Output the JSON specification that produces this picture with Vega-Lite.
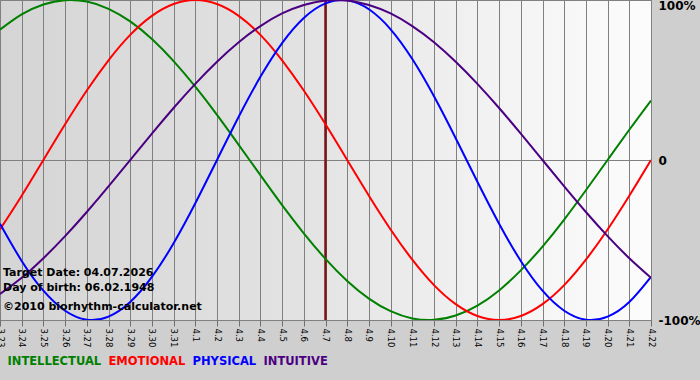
{
  "$schema": "https://vega.github.io/schema/vega-lite/v6.json",
  "width": 651,
  "height": 320,
  "autosize": {"type": "none"},
  "padding": {"left": 0, "top": 0, "right": 49, "bottom": 60},
  "background": "#cfcfcf",
  "config": {
    "font": "DejaVu Sans",
    "view": {
      "stroke": "#808080",
      "strokeWidth": 1,
      "fill": {
        "gradient": "linear",
        "x1": 0, "y1": 0, "x2": 1, "y2": 0,
        "stops": [
          {"offset": 0, "color": "#d5d5d5"},
          {"offset": 0.45, "color": "#e2e2e2"},
          {"offset": 0.75, "color": "#f2f2f2"},
          {"offset": 1, "color": "#fcfcfc"}
        ]
      }
    }
  },
  "datasets": {
    "bio": [
      {"day": "3.23", "INTELLECTUAL": 0.815, "EMOTIONAL": -0.434, "PHYSICAL": -0.398, "INTUITIVE": -0.837},
      {"day": "3.24", "INTELLECTUAL": 0.910, "EMOTIONAL": -0.223, "PHYSICAL": -0.631, "INTUITIVE": -0.736},
      {"day": "3.25", "INTELLECTUAL": 0.972, "EMOTIONAL": 0.0, "PHYSICAL": -0.817, "INTUITIVE": -0.614},
      {"day": "3.26", "INTELLECTUAL": 0.999, "EMOTIONAL": 0.223, "PHYSICAL": -0.942, "INTUITIVE": -0.476},
      {"day": "3.27", "INTELLECTUAL": 0.990, "EMOTIONAL": 0.434, "PHYSICAL": -0.998, "INTUITIVE": -0.325},
      {"day": "3.28", "INTELLECTUAL": 0.945, "EMOTIONAL": 0.623, "PHYSICAL": -0.979, "INTUITIVE": -0.165},
      {"day": "3.29", "INTELLECTUAL": 0.866, "EMOTIONAL": 0.782, "PHYSICAL": -0.888, "INTUITIVE": 0.0},
      {"day": "3.30", "INTELLECTUAL": 0.756, "EMOTIONAL": 0.901, "PHYSICAL": -0.731, "INTUITIVE": 0.165},
      {"day": "3.31", "INTELLECTUAL": 0.618, "EMOTIONAL": 0.975, "PHYSICAL": -0.520, "INTUITIVE": 0.325},
      {"day": "4.1", "INTELLECTUAL": 0.458, "EMOTIONAL": 1.0, "PHYSICAL": -0.270, "INTUITIVE": 0.476},
      {"day": "4.2", "INTELLECTUAL": 0.282, "EMOTIONAL": 0.975, "PHYSICAL": 0.0, "INTUITIVE": 0.614},
      {"day": "4.3", "INTELLECTUAL": 0.095, "EMOTIONAL": 0.901, "PHYSICAL": 0.270, "INTUITIVE": 0.736},
      {"day": "4.4", "INTELLECTUAL": -0.095, "EMOTIONAL": 0.782, "PHYSICAL": 0.520, "INTUITIVE": 0.837},
      {"day": "4.5", "INTELLECTUAL": -0.282, "EMOTIONAL": 0.623, "PHYSICAL": 0.731, "INTUITIVE": 0.916},
      {"day": "4.6", "INTELLECTUAL": -0.458, "EMOTIONAL": 0.434, "PHYSICAL": 0.888, "INTUITIVE": 0.969},
      {"day": "4.7", "INTELLECTUAL": -0.618, "EMOTIONAL": 0.223, "PHYSICAL": 0.979, "INTUITIVE": 0.997},
      {"day": "4.8", "INTELLECTUAL": -0.756, "EMOTIONAL": 0.0, "PHYSICAL": 0.998, "INTUITIVE": 0.997},
      {"day": "4.9", "INTELLECTUAL": -0.866, "EMOTIONAL": -0.223, "PHYSICAL": 0.942, "INTUITIVE": 0.969},
      {"day": "4.10", "INTELLECTUAL": -0.945, "EMOTIONAL": -0.434, "PHYSICAL": 0.817, "INTUITIVE": 0.916},
      {"day": "4.11", "INTELLECTUAL": -0.990, "EMOTIONAL": -0.623, "PHYSICAL": 0.631, "INTUITIVE": 0.837},
      {"day": "4.12", "INTELLECTUAL": -0.999, "EMOTIONAL": -0.782, "PHYSICAL": 0.398, "INTUITIVE": 0.736},
      {"day": "4.13", "INTELLECTUAL": -0.972, "EMOTIONAL": -0.901, "PHYSICAL": 0.136, "INTUITIVE": 0.614},
      {"day": "4.14", "INTELLECTUAL": -0.910, "EMOTIONAL": -0.975, "PHYSICAL": -0.136, "INTUITIVE": 0.476},
      {"day": "4.15", "INTELLECTUAL": -0.815, "EMOTIONAL": -1.0, "PHYSICAL": -0.398, "INTUITIVE": 0.325},
      {"day": "4.16", "INTELLECTUAL": -0.690, "EMOTIONAL": -0.975, "PHYSICAL": -0.631, "INTUITIVE": 0.165},
      {"day": "4.17", "INTELLECTUAL": -0.541, "EMOTIONAL": -0.901, "PHYSICAL": -0.817, "INTUITIVE": 0.0},
      {"day": "4.18", "INTELLECTUAL": -0.372, "EMOTIONAL": -0.782, "PHYSICAL": -0.942, "INTUITIVE": -0.165},
      {"day": "4.19", "INTELLECTUAL": -0.189, "EMOTIONAL": -0.623, "PHYSICAL": -0.998, "INTUITIVE": -0.325},
      {"day": "4.20", "INTELLECTUAL": 0.0, "EMOTIONAL": -0.434, "PHYSICAL": -0.979, "INTUITIVE": -0.476},
      {"day": "4.21", "INTELLECTUAL": 0.189, "EMOTIONAL": -0.223, "PHYSICAL": -0.888, "INTUITIVE": -0.614},
      {"day": "4.22", "INTELLECTUAL": 0.372, "EMOTIONAL": 0.0, "PHYSICAL": -0.731, "INTUITIVE": -0.736}
    ]
  },
  "encoding": {
    "x": {
      "field": "day",
      "type": "ordinal",
      "scale": {
        "type": "point",
        "padding": 0,
        "domain": ["3.23","3.24","3.25","3.26","3.27","3.28","3.29","3.30","3.31","4.1","4.2","4.3","4.4","4.5","4.6","4.7","4.8","4.9","4.10","4.11","4.12","4.13","4.14","4.15","4.16","4.17","4.18","4.19","4.20","4.21","4.22"]
      },
      "axis": {
        "title": null,
        "labelAngle": 90,
        "labelAlign": "left",
        "labelBaseline": "middle",
        "labelFontSize": 8.5,
        "labelColor": "#000000",
        "labelPadding": 2,
        "labelOverlap": false,
        "tickSize": 6,
        "tickColor": "#707070",
        "grid": true,
        "gridColor": "#808080",
        "gridOpacity": 1,
        "gridWidth": 1,
        "domain": false
      }
    }
  },
  "layer": [
    {
      "data": {"values": [{"day": "4.7"}]},
      "mark": {"type": "rule", "color": "#7a1414", "strokeWidth": 2.5},
      "encoding": {}
    },
    {
      "data": {"name": "bio"},
      "transform": [{"fold": ["INTELLECTUAL", "EMOTIONAL", "PHYSICAL", "INTUITIVE"], "as": ["series", "value"]}],
      "mark": {"type": "line", "strokeWidth": 2, "interpolate": "natural", "clip": true},
      "encoding": {
        "y": {
          "field": "value",
          "type": "quantitative",
          "scale": {"domain": [-1, 1], "nice": false, "zero": false},
          "axis": {
            "orient": "right",
            "title": null,
            "values": [-1, 0, 1],
            "labelExpr": "datum.value == 1 ? '100%' : datum.value == 0 ? '0' : '-100%'",
            "labelFontWeight": "bold",
            "labelFontSize": 12,
            "labelColor": "#000000",
            "labelAlign": "left",
            "labelPadding": 7,
            "labelFlush": false,
            "labelBaseline": {"condition": {"test": "datum.value == 1", "value": "top"}, "value": "middle"},
            "ticks": false,
            "domain": false,
            "grid": true,
            "gridColor": "#808080",
            "gridOpacity": 1
          }
        },
        "color": {
          "field": "series",
          "type": "nominal",
          "scale": {
            "domain": ["INTELLECTUAL", "EMOTIONAL", "PHYSICAL", "INTUITIVE"],
            "range": ["#008000", "#ff0000", "#0000ff", "#4b0082"]
          },
          "legend": {
            "orient": "none",
            "legendX": 1,
            "legendY": 356,
            "direction": "horizontal",
            "title": null,
            "symbolSize": 0,
            "symbolOpacity": 0,
            "symbolStrokeWidth": 0,
            "labelOffset": -5,
            "labelFontSize": 11.5,
            "labelFontWeight": "bold",
            "labelLimit": 0,
            "columnPadding": 0,
            "encode": {"labels": {"update": {"fill": {"scale": "color", "field": "value"}}}}
          }
        }
      }
    },
    {
      "data": {"values": [{"note": "Target Date: 04.07.2026"}]},
      "mark": {"type": "text", "align": "left", "baseline": "alphabetic", "dx": 3, "fontSize": 11, "fontWeight": "bold", "color": "#000000"},
      "encoding": {
        "x": {"datum": "3.23", "type": "ordinal"},
        "y": {"datum": -0.725, "type": "quantitative"},
        "text": {"field": "note"}
      }
    },
    {
      "data": {"values": [{"note": "Day of birth: 06.02.1948"}]},
      "mark": {"type": "text", "align": "left", "baseline": "alphabetic", "dx": 3, "fontSize": 11, "fontWeight": "bold", "color": "#000000"},
      "encoding": {
        "x": {"datum": "3.23", "type": "ordinal"},
        "y": {"datum": -0.819, "type": "quantitative"},
        "text": {"field": "note"}
      }
    },
    {
      "data": {"values": [{"note": "©2010 biorhythm-calculator.net"}]},
      "mark": {"type": "text", "align": "left", "baseline": "alphabetic", "dx": 3, "fontSize": 11, "fontWeight": "bold", "color": "#000000"},
      "encoding": {
        "x": {"datum": "3.23", "type": "ordinal"},
        "y": {"datum": -0.9375, "type": "quantitative"},
        "text": {"field": "note"}
      }
    }
  ]
}
